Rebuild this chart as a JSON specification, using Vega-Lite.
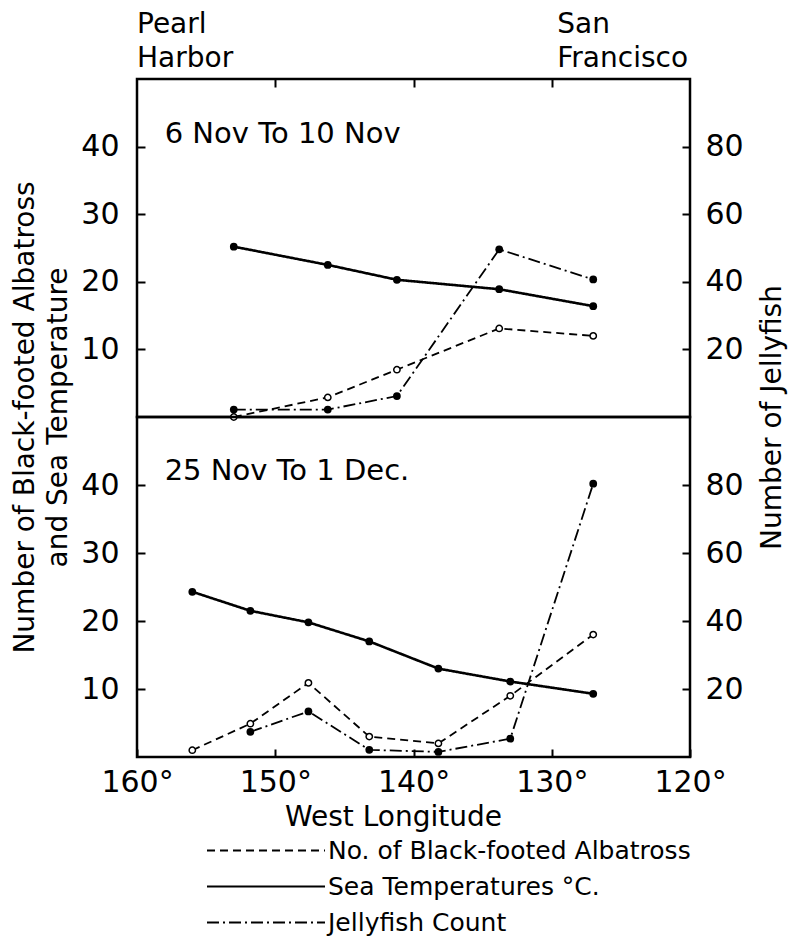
{
  "$schema": "https://vega.github.io/schema/vega-lite/v6.json",
  "padding": {"left": 10, "top": 9, "right": 10, "bottom": 2},
  "config": {
    "font": "DejaVu Sans",
    "view": {"stroke": "black", "strokeWidth": 2.5},
    "axis": {"labelFont": "DejaVu Sans", "labelFontSize": 30, "labelColor": "black", "titleFont": "DejaVu Sans", "titleFontSize": 28, "titleFontWeight": "normal", "titleColor": "black", "tickColor": "black", "tickWidth": 2, "domain": false, "grid": false},
    "line": {"strokeCap": "butt"}
  },
  "datasets": {
    "obs": [
      {"panel": "A", "series": "Sea Temperatures °C.", "lon": 153.0, "value": 25.2},
      {"panel": "A", "series": "Sea Temperatures °C.", "lon": 146.2, "value": 22.5},
      {"panel": "A", "series": "Sea Temperatures °C.", "lon": 141.2, "value": 20.3},
      {"panel": "A", "series": "Sea Temperatures °C.", "lon": 133.8, "value": 18.9},
      {"panel": "A", "series": "Sea Temperatures °C.", "lon": 127.0, "value": 16.4},
      {"panel": "A", "series": "No. of Black-footed Albatross", "lon": 153.0, "value": 0},
      {"panel": "A", "series": "No. of Black-footed Albatross", "lon": 146.2, "value": 2.9},
      {"panel": "A", "series": "No. of Black-footed Albatross", "lon": 141.2, "value": 7.0},
      {"panel": "A", "series": "No. of Black-footed Albatross", "lon": 133.8, "value": 13.1},
      {"panel": "A", "series": "No. of Black-footed Albatross", "lon": 127.0, "value": 12.0},
      {"panel": "A", "series": "Jellyfish Count", "lon": 153.0, "value": 2.2},
      {"panel": "A", "series": "Jellyfish Count", "lon": 146.2, "value": 2.2},
      {"panel": "A", "series": "Jellyfish Count", "lon": 141.2, "value": 6.2},
      {"panel": "A", "series": "Jellyfish Count", "lon": 133.8, "value": 49.6},
      {"panel": "A", "series": "Jellyfish Count", "lon": 127.0, "value": 40.7},
      {"panel": "B", "series": "Sea Temperatures °C.", "lon": 156.0, "value": 24.3},
      {"panel": "B", "series": "Sea Temperatures °C.", "lon": 151.8, "value": 21.5},
      {"panel": "B", "series": "Sea Temperatures °C.", "lon": 147.6, "value": 19.8},
      {"panel": "B", "series": "Sea Temperatures °C.", "lon": 143.2, "value": 17.0},
      {"panel": "B", "series": "Sea Temperatures °C.", "lon": 138.2, "value": 13.0},
      {"panel": "B", "series": "Sea Temperatures °C.", "lon": 133.0, "value": 11.1},
      {"panel": "B", "series": "Sea Temperatures °C.", "lon": 127.0, "value": 9.3},
      {"panel": "B", "series": "No. of Black-footed Albatross", "lon": 156.0, "value": 1.0},
      {"panel": "B", "series": "No. of Black-footed Albatross", "lon": 151.8, "value": 4.9},
      {"panel": "B", "series": "No. of Black-footed Albatross", "lon": 147.6, "value": 10.9},
      {"panel": "B", "series": "No. of Black-footed Albatross", "lon": 143.2, "value": 3.0},
      {"panel": "B", "series": "No. of Black-footed Albatross", "lon": 138.2, "value": 2.0},
      {"panel": "B", "series": "No. of Black-footed Albatross", "lon": 133.0, "value": 9.0},
      {"panel": "B", "series": "No. of Black-footed Albatross", "lon": 127.0, "value": 18.0},
      {"panel": "B", "series": "Jellyfish Count", "lon": 151.8, "value": 7.4},
      {"panel": "B", "series": "Jellyfish Count", "lon": 147.6, "value": 13.4},
      {"panel": "B", "series": "Jellyfish Count", "lon": 143.2, "value": 2.1},
      {"panel": "B", "series": "Jellyfish Count", "lon": 138.2, "value": 1.5},
      {"panel": "B", "series": "Jellyfish Count", "lon": 133.0, "value": 5.4},
      {"panel": "B", "series": "Jellyfish Count", "lon": 127.0, "value": 80.4}
    ]
  },
  "spacing": 0,
  "bounds": "flush",
  "resolve": {"legend": {"strokeDash": "independent"}},
  "vconcat": [
    {
      "width": 553,
      "height": 338,
      "resolve": {"scale": {"y": "independent"}},
      "layer": [
        {
          "data": {"name": "obs"},
          "transform": [{"filter": "datum.panel == 'A' && datum.series != 'Jellyfish Count'"}],
          "encoding": {
            "x": {"field": "lon", "type": "quantitative", "scale": {"domain": [160, 120], "nice": false}, "axis": {"orient": "top", "values": [150, 140, 130], "labels": false, "offset": -8, "tickSize": 8, "title": null}},
            "y": {"field": "value", "type": "quantitative", "scale": {"domain": [0, 50], "nice": false}, "axis": {"orient": "left", "values": [10, 20, 30, 40], "offset": -8, "tickSize": 8, "labelPadding": 18, "title": ["Number of Black-footed Albatross", "and Sea Temperature"], "titleY": 338, "titlePadding": 8, "titleLineHeight": 33}}
          },
          "layer": [
            {"mark": {"type": "line", "color": "black"}, "encoding": {
              "strokeDash": {"field": "series", "type": "nominal", "scale": {"domain": ["No. of Black-footed Albatross", "Sea Temperatures °C.", "Jellyfish Count"], "range": [[8, 5], [1, 0], [12, 4, 2, 4]]}, "legend": null},
              "strokeWidth": {"condition": {"test": "datum.series == 'Sea Temperatures °C.'", "value": 2.6}, "value": 1.8}}},
            {"transform": [{"filter": "datum.series == 'Sea Temperatures °C.'"}], "mark": {"type": "circle", "color": "black", "opacity": 1, "size": 60}},
            {"transform": [{"filter": "datum.series == 'No. of Black-footed Albatross'"}], "mark": {"type": "circle", "fill": "white", "stroke": "black", "strokeWidth": 1.5, "opacity": 1, "size": 40}}
          ]
        },
        {
          "data": {"name": "obs"},
          "transform": [{"filter": "datum.panel == 'A' && datum.series == 'Jellyfish Count'"}],
          "encoding": {
            "x": {"field": "lon", "type": "quantitative", "scale": {"domain": [160, 120], "nice": false}, "axis": {"orient": "top", "values": [150, 140, 130], "labels": false, "offset": -8, "tickSize": 8, "title": null}},
            "y": {"field": "value", "type": "quantitative", "scale": {"domain": [0, 100], "nice": false}, "axis": {"orient": "right", "values": [20, 40, 60, 80], "offset": -8, "tickSize": 8, "labelPadding": 15, "title": "Number of Jellyfish", "titleY": 338, "titleAngle": -90, "titleBaseline": "top", "titlePadding": 15}}
          },
          "layer": [
            {"mark": {"type": "line", "color": "black", "strokeWidth": 1.8}, "encoding": {
              "strokeDash": {"field": "series", "type": "nominal", "scale": {"domain": ["No. of Black-footed Albatross", "Sea Temperatures °C.", "Jellyfish Count"], "range": [[8, 5], [1, 0], [12, 4, 2, 4]]}, "legend": null}}},
            {"mark": {"type": "circle", "color": "black", "opacity": 1, "size": 60}}
          ]
        },
        {
          "data": {"values": [{"label": "6 Nov To 10 Nov"}]},
          "mark": {"type": "text", "align": "left", "baseline": "alphabetic", "fontSize": 29, "font": "DejaVu Sans", "color": "black"},
          "encoding": {
            "x": {"datum": 158, "type": "quantitative", "scale": {"domain": [160, 120], "nice": false}, "axis": {"orient": "top", "values": [150, 140, 130], "labels": false, "offset": -8, "tickSize": 8, "title": null}},
            "y": {"datum": 40.5, "type": "quantitative", "scale": {"domain": [0, 50], "nice": false}, "axis": null},
            "text": {"field": "label"}
          }
        },
        {
          "data": {"values": [{"place": "Pearl\nHarbor", "lon": 160}, {"place": "San\nFrancisco", "lon": 129.6}]},
          "mark": {"type": "text", "align": "left", "baseline": "alphabetic", "fontSize": 28, "font": "DejaVu Sans", "color": "black", "lineBreak": "\n", "lineHeight": 34},
          "encoding": {
            "x": {"field": "lon", "type": "quantitative", "scale": {"domain": [160, 120], "nice": false}, "axis": {"orient": "top", "values": [150, 140, 130], "labels": false, "offset": -8, "tickSize": 8, "title": null}},
            "y": {"datum": 56.8, "type": "quantitative", "scale": {"domain": [0, 50], "nice": false}, "axis": null},
            "text": {"field": "place"}
          }
        }
      ]
    },
    {
      "width": 553,
      "height": 340,
      "resolve": {"scale": {"y": "independent"}},
      "layer": [
        {
          "data": {"name": "obs"},
          "transform": [{"filter": "datum.panel == 'B' && datum.series != 'Jellyfish Count'"}],
          "encoding": {
            "x": {"field": "lon", "type": "quantitative", "scale": {"domain": [160, 120], "nice": false}, "axis": {"orient": "bottom", "values": [160, 150, 140, 130, 120], "labelExpr": "datum.value + '°'", "labelFlush": false, "offset": -8, "tickSize": 8, "labelPadding": 10, "title": "West Longitude", "titlePadding": 6, "titleX": 256}},
            "y": {"field": "value", "type": "quantitative", "scale": {"domain": [0, 50], "nice": false}, "axis": {"orient": "left", "values": [10, 20, 30, 40], "offset": -8, "tickSize": 8, "labelPadding": 18, "title": null}}
          },
          "layer": [
            {"mark": {"type": "line", "color": "black"}, "encoding": {
              "strokeDash": {"field": "series", "type": "nominal", "scale": {"domain": ["No. of Black-footed Albatross", "Sea Temperatures °C.", "Jellyfish Count"], "range": [[8, 5], [1, 0], [12, 4, 2, 4]]},
                "legend": {"title": null, "orient": "none", "legendX": 162, "legendY": 420, "direction": "vertical", "symbolType": "M-8.44,0H1", "symbolSize": 625, "symbolStrokeWidth": 1.8, "symbolStrokeColor": "black", "symbolFillColor": "transparent", "labelFont": "DejaVu Sans", "labelFontSize": 25, "labelColor": "black", "labelOffset": 2, "labelLimit": 600, "rowPadding": 9}},
              "strokeWidth": {"condition": {"test": "datum.series == 'Sea Temperatures °C.'", "value": 2.6}, "value": 1.8}}},
            {"transform": [{"filter": "datum.series == 'Sea Temperatures °C.'"}], "mark": {"type": "circle", "color": "black", "opacity": 1, "size": 60}},
            {"transform": [{"filter": "datum.series == 'No. of Black-footed Albatross'"}], "mark": {"type": "circle", "fill": "white", "stroke": "black", "strokeWidth": 1.5, "opacity": 1, "size": 40}}
          ]
        },
        {
          "data": {"name": "obs"},
          "transform": [{"filter": "datum.panel == 'B' && datum.series == 'Jellyfish Count'"}],
          "encoding": {
            "x": {"field": "lon", "type": "quantitative", "scale": {"domain": [160, 120], "nice": false}, "axis": {"orient": "bottom", "values": [160, 150, 140, 130, 120], "labelExpr": "datum.value + '°'", "labelFlush": false, "offset": -8, "tickSize": 8, "labelPadding": 10, "title": "West Longitude", "titlePadding": 6, "titleX": 256}},
            "y": {"field": "value", "type": "quantitative", "scale": {"domain": [0, 100], "nice": false}, "axis": {"orient": "right", "values": [20, 40, 60, 80], "offset": -8, "tickSize": 8, "labelPadding": 15, "title": null}}
          },
          "layer": [
            {"mark": {"type": "line", "color": "black", "strokeWidth": 1.8}, "encoding": {
              "strokeDash": {"field": "series", "type": "nominal", "scale": {"domain": ["No. of Black-footed Albatross", "Sea Temperatures °C.", "Jellyfish Count"], "range": [[8, 5], [1, 0], [12, 4, 2, 4]]},
                "legend": {"title": null, "orient": "none", "legendX": 162, "legendY": 420, "direction": "vertical", "symbolType": "M-8.44,0H1", "symbolSize": 625, "symbolStrokeWidth": 1.8, "symbolStrokeColor": "black", "symbolFillColor": "transparent", "labelFont": "DejaVu Sans", "labelFontSize": 25, "labelColor": "black", "labelOffset": 2, "labelLimit": 600, "rowPadding": 9}}}},
            {"mark": {"type": "circle", "color": "black", "opacity": 1, "size": 60}}
          ]
        },
        {
          "data": {"values": [{"label": "25 Nov To 1 Dec."}]},
          "mark": {"type": "text", "align": "left", "baseline": "alphabetic", "fontSize": 29, "font": "DejaVu Sans", "color": "black"},
          "encoding": {
            "x": {"datum": 158, "type": "quantitative", "scale": {"domain": [160, 120], "nice": false}, "axis": {"orient": "bottom", "values": [160, 150, 140, 130, 120], "labelExpr": "datum.value + '°'", "labelFlush": false, "offset": -8, "tickSize": 8, "labelPadding": 10, "title": "West Longitude", "titlePadding": 6, "titleX": 256}},
            "y": {"datum": 40.8, "type": "quantitative", "scale": {"domain": [0, 50], "nice": false}, "axis": null},
            "text": {"field": "label"}
          }
        }
      ]
    }
  ]
}
